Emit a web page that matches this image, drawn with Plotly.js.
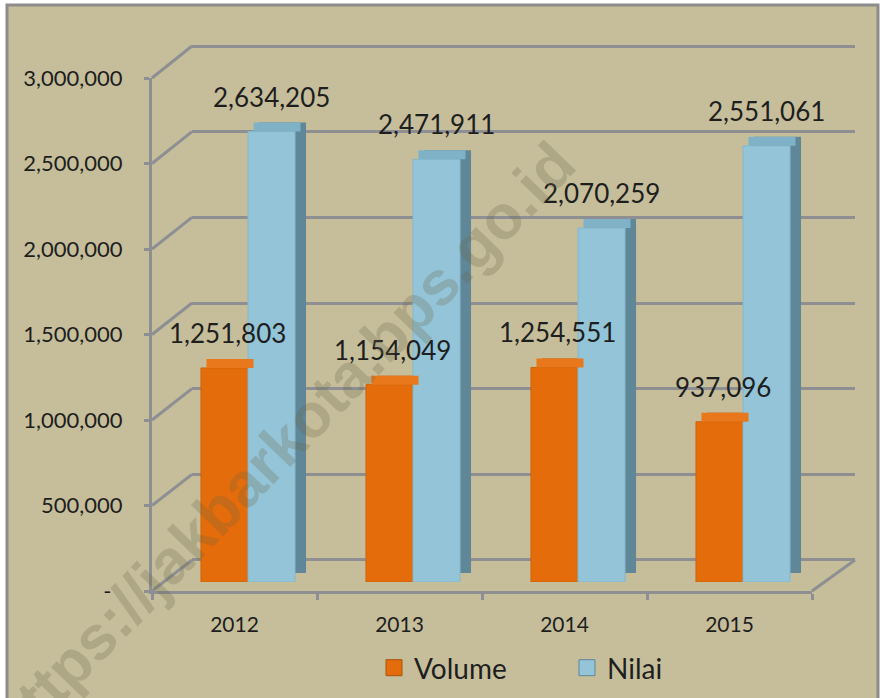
<!DOCTYPE html>
<html>
<head>
<meta charset="utf-8">
<script src="https://cdn.plot.ly/plotly-3.0.1.min.js"></script>
<style>html,body{margin:0;padding:0;background:#fff;}#chart{width:881px;height:698px;}</style>
</head>
<body>
<div id="chart"></div>
<script>
// ---- data ----
const years = ['2012', '2013', '2014', '2015'];
const volume = [1251803, 1154049, 1254551, 937096];
const nilai = [2634205, 2471911, 2070259, 2551061];
const seriesNames = ['Volume', 'Nilai'];
const yTickVals = [0, 500000, 1000000, 1500000, 2000000, 2500000, 3000000];
const yTickText = ['-\u00a0\u00a0', '500,000', '1,000,000', '1,500,000', '2,000,000', '2,500,000', '3,000,000'];
const watermark = 'https://jakbarkota.bps.go.id';

// ---- layout helpers (pixel -> paper) ----
const W = 881, H = 698;
const px = x => x / W;
const py = y => 1 - y / H;
const YMAX = 3000000;
const FONT = 'Lato, Carlito, sans-serif';
const GRID = '#8d8f93';
const BG = '#c6be9b';
const fmt = v => v.toLocaleString('en-US');

// planes: back wall, bar sides, bar fronts, front axes
const front = {x0: 152, x1: 812, yb: 591, yt: 78};
const back = {x0: 192, x1: 855, yb: 560, yt: 46};
const barP = {x0: 165.5, x1: 825.5, yb: 582, yt: 69};
const sideP = {x0: barP.x0 + 11, x1: barP.x1 + 11, yb: barP.yb - 9, yt: barP.yt - 9};
const topP = {x0: barP.x0 + 5.5, x1: barP.x1 + 5.5, yb: barP.yb, yt: barP.yt};
const pxPerUnit = (barP.yb - barP.yt) / YMAX;
const topDepth = 9 / pxPerUnit; // thickness of the top face in data units (styling)

const hidden = {showgrid: false, showline: false, zeroline: false, showticklabels: false, ticks: ''};
const idx = years.map((_, i) => i);
const nulls = years.map(() => null);

const traces = [];
// dummy on back plane so gridlines render
traces.push({type: 'scatter', x: idx, y: nulls, xaxis: 'x', yaxis: 'y', showlegend: false, hoverinfo: 'skip'});
// side (depth) pieces of the 3D bars
traces.push({type: 'bar', x: years, y: volume, xaxis: 'x2', yaxis: 'y2', marker: {color: '#a9520b'}, showlegend: false, hoverinfo: 'skip'});
traces.push({type: 'bar', x: years, y: nilai, xaxis: 'x2', yaxis: 'y2', marker: {color: '#5f8798'}, showlegend: false, hoverinfo: 'skip'});
// top faces
traces.push({type: 'bar', x: years, y: volume.map(() => topDepth), base: volume, xaxis: 'x5', yaxis: 'y5', marker: {color: '#e9781c'}, showlegend: false, hoverinfo: 'skip'});
traces.push({type: 'bar', x: years, y: nilai.map(() => topDepth), base: nilai, xaxis: 'x5', yaxis: 'y5', marker: {color: '#7fb2c6'}, showlegend: false, hoverinfo: 'skip'});
// front faces
traces.push({type: 'bar', name: seriesNames[0], x: years, y: volume, xaxis: 'x3', yaxis: 'y3', marker: {color: '#e46c0a', line: {color: '#cf6208', width: 1}}, showlegend: false});
traces.push({type: 'bar', name: seriesNames[1], x: years, y: nilai, xaxis: 'x3', yaxis: 'y3', marker: {color: '#93c4d8', line: {color: '#84b8cc', width: 1}}, showlegend: false});
// legend entries (front axes; also supply the category labels)
traces.push({type: 'scatter', mode: 'markers', name: seriesNames[0], x: years, y: nulls, xaxis: 'x4', yaxis: 'y4', marker: {symbol: 'square', size: 16, color: '#e46c0a', line: {color: '#a9520b', width: 1}}});
traces.push({type: 'scatter', mode: 'markers', name: seriesNames[1], x: years, y: nulls, xaxis: 'x4', yaxis: 'y4', marker: {symbol: 'square', size: 16, color: '#93c4d8', line: {color: '#5f8798', width: 1}}});

// shapes: frame and 3D connectors
const shapes = [];
shapes.push({type: 'rect', xref: 'paper', yref: 'paper', x0: px(7), x1: px(878), y0: -0.05, y1: py(5), fillcolor: BG, line: {color: '#8c8c8c', width: 3}, layer: 'below'});
yTickVals.forEach(v => {
  const fy = front.yb - v / YMAX * (front.yb - front.yt);
  const by = back.yb - v / YMAX * (back.yb - back.yt);
  shapes.push({type: 'line', xref: 'paper', yref: 'paper', x0: px(front.x0), y0: py(fy), x1: px(back.x0), y1: py(by), line: {color: GRID, width: 3}, layer: 'below'});
});
shapes.push({type: 'line', xref: 'paper', yref: 'paper', x0: px(front.x1), y0: py(front.yb), x1: px(back.x1), y1: py(back.yb), line: {color: GRID, width: 3}, layer: 'below'});

// annotations: data labels + watermark
const annotations = [];
[volume, nilai].forEach((arr, s) => {
  arr.forEach((v, i) => {
    annotations.push({x: i, y: v, xref: 'x3', yref: 'y3', text: fmt(v), showarrow: false,
      xshift: s === 0 ? -20.5 : 23.5, yshift: 35, yanchor: 'middle', xanchor: 'center',
      font: {family: FONT, size: 26, color: '#1e1e1e'}});
  });
});
annotations.push({xref: 'paper', yref: 'paper', x: px(283), y: py(444), text: '<b>' + watermark + '</b>', showarrow: false,
  textangle: -46, xanchor: 'center', yanchor: 'middle', font: {family: '"Liberation Sans", Arial, sans-serif', size: 62, color: 'rgba(110,100,70,0.26)'}});

const pad = YMAX * 0.002;
const layout = {
  width: W, height: H,
  margin: {l: 0, r: 0, t: 0, b: 0},
  paper_bgcolor: '#ffffff',
  plot_bgcolor: 'rgba(0,0,0,0)',
  barmode: 'group', bargap: 0.43, bargroupgap: 0,
  showlegend: true,
  legend: {orientation: 'h', x: px(374), xanchor: 'left', y: py(668), yanchor: 'middle',
    bgcolor: 'rgba(0,0,0,0)', font: {family: FONT, size: 28, color: '#1e1e1e'},
    entrywidth: 148, entrywidthmode: 'pixels', itemclick: false},
  xaxis: Object.assign({domain: [px(back.x0), px(back.x1)], type: 'linear', range: [-0.5, 3.5], anchor: 'y'}, hidden),
  yaxis: {domain: [py(back.yb + 1), py(back.yt - 1)], range: [-pad, YMAX + pad], anchor: 'x', showgrid: true, gridcolor: GRID, gridwidth: 3,
    tickmode: 'array', tickvals: yTickVals, showticklabels: false, ticks: '', zeroline: false, showline: false},
  xaxis2: Object.assign({domain: [px(sideP.x0), px(sideP.x1)], type: 'category', range: [-0.5, 3.5], anchor: 'y2'}, hidden),
  yaxis2: Object.assign({domain: [py(sideP.yb), py(sideP.yt)], range: [0, YMAX], anchor: 'x2'}, hidden),
  xaxis5: Object.assign({domain: [px(topP.x0), px(topP.x1)], type: 'category', range: [-0.5, 3.5], anchor: 'y5'}, hidden),
  yaxis5: Object.assign({domain: [py(topP.yb), py(topP.yt)], range: [0, YMAX], anchor: 'x5'}, hidden),
  xaxis3: Object.assign({domain: [px(barP.x0), px(barP.x1)], type: 'category', range: [-0.5, 3.5], anchor: 'y3'}, hidden),
  yaxis3: Object.assign({domain: [py(barP.yb), py(barP.yt)], range: [0, YMAX], anchor: 'x3'}, hidden),
  xaxis4: {domain: [px(front.x0), px(front.x1)], type: 'category', range: [-0.5, 3.5], anchor: 'y4',
    showline: true, linecolor: GRID, linewidth: 3, ticks: 'outside', tickson: 'boundaries', ticklen: 6, tickwidth: 3, tickcolor: GRID,
    showgrid: false, zeroline: false, tickfont: {family: FONT, size: 21, color: '#1e1e1e'}, ticklabelstandoff: 13},
  yaxis4: {domain: [py(front.yb), py(front.yt)], range: [0, YMAX], anchor: 'x4',
    showline: true, linecolor: GRID, linewidth: 3, ticks: 'outside', ticklen: 5, tickwidth: 3, tickcolor: GRID,
    tickmode: 'array', tickvals: yTickVals, ticktext: yTickText, showgrid: false, zeroline: false,
    tickfont: {family: FONT, size: 22, color: '#1e1e1e'}, ticklabelstandoff: 17},
  shapes: shapes,
  annotations: annotations
};

Plotly.newPlot('chart', traces, layout, {displayModeBar: false, staticPlot: true});
</script>
</body>
</html>
